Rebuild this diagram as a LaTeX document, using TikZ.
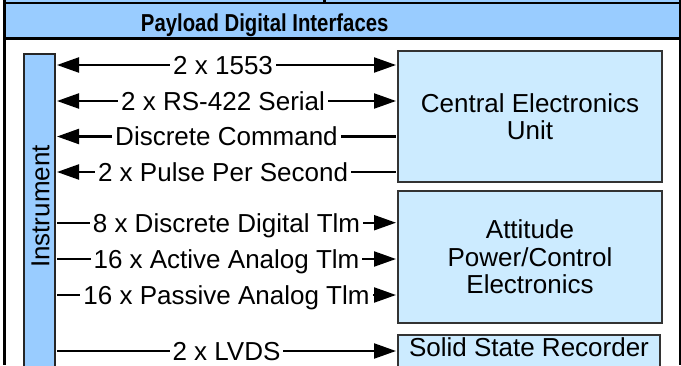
\documentclass[tikz,border=0pt]{standalone}
\usepackage{fontspec}
\setmainfont{Liberation Sans}
\usetikzlibrary{arrows.meta}
\definecolor{hdrblue}{HTML}{99CCFF}
\definecolor{boxblue}{HTML}{CCEBFF}
\begin{document}
\begin{tikzpicture}[x=1pt,y=-1pt,
  >={Triangle[length=22pt,width=15pt]},
  bigfont/.style={font=\fontsize{26}{27.3}\selectfont},
  box/.style={draw=black!80, line width=2.3pt, fill=boxblue, inner sep=0pt, align=center, bigfont},
  conn/.style={line width=2.2pt, shorten >=1pt, shorten <=1pt},
  lbl/.style={fill=white, inner xsep=3pt, inner ysep=1pt, text height=18.6pt, text depth=0pt, bigfont},
  frame/.style={line width=2.7pt}
]
\useasboundingbox (0,0) rectangle (681,365);
\clip (0,0) rectangle (681,365);

% top strip (cells of the table above) and header band
\fill[hdrblue] (6,0) rectangle (680,2.3);
\draw[line width=2.5pt] (324.5,0) -- (324.5,3);
\fill[hdrblue] (6,4) rectangle (679,37.5);
\node[anchor=base, inner sep=0pt, font=\fontsize{24.5}{26}\selectfont\bfseries] (hdr) at (264.7,31.7)
  {\scalebox{0.83}[1]{Payload Digital Interfaces}};

% frame lines
\draw[line width=2.5pt] (3.3,3.2) -- (681,3.2);
\draw[frame] (3.3,38.7) -- (681,38.7);
\draw[frame] (4.7,0) -- (4.7,365);
\draw[frame] (680.5,0) -- (680.5,365);

% instrument
\node[draw=black!85, line width=2.2pt, fill=hdrblue, minimum width=30.8pt, minimum height=330pt,
      anchor=north, inner sep=0pt] (instr) at (39.5,52.8) {};
\node[rotate=90, inner sep=0pt, text height=18.6pt, text depth=0pt, bigfont] (instrlbl) at (40,206.5) {Instrument};

% boxes
\node[box, minimum width=263.7pt, minimum height=130.7pt] (ceu) at (530,116.5) {Central Electronics\\Unit};
\node[box, minimum width=263.7pt, minimum height=131.7pt] (apce) at (530,257) {Attitude\\Power/Control\\Electronics};
\node[box, anchor=north, minimum width=261.7pt, text height=20.85pt, text depth=30pt, inner ysep=0pt] (ssr) at (529,334.15) {Solid State Recorder};

% connectors
\draw[conn,<->] (instr.east |- 0,65) -- (ceu.west |- 0,65) node[lbl,pos=0.49] (l1) {2 x 1553};
\draw[conn,<->] (instr.east |- 0,101) -- (ceu.west |- 0,101) node[lbl,pos=0.49] (l2) {2 x RS-422 Serial};
\draw[conn,<-] (instr.east |- 0,136.5) -- (ceu.west |- 0,136.5) node[lbl,midway] (l3) {Discrete Command};
\draw[conn,<-] (instr.east |- 0,172) -- (ceu.west |- 0,172) node[lbl,pos=0.49] (l4) {2 x Pulse Per Second};
\draw[conn,->] (instr.east |- 0,222.7) -- (apce.west |- 0,222.7) node[lbl,midway] (l5) {8 x Discrete Digital Tlm};
\draw[conn,->] (instr.east |- 0,259) -- (apce.west |- 0,259) node[lbl,midway] (l6) {16 x Active Analog Tlm};
\draw[conn,->] (instr.east |- 0,295) -- (apce.west |- 0,295) node[lbl,midway] (l7) {16 x Passive Analog Tlm};
\draw[conn,->] (instr.east |- 0,351) -- (ssr.west |- 0,351) node[lbl,midway] (l8) {2 x LVDS};
\end{tikzpicture}
\end{document}
